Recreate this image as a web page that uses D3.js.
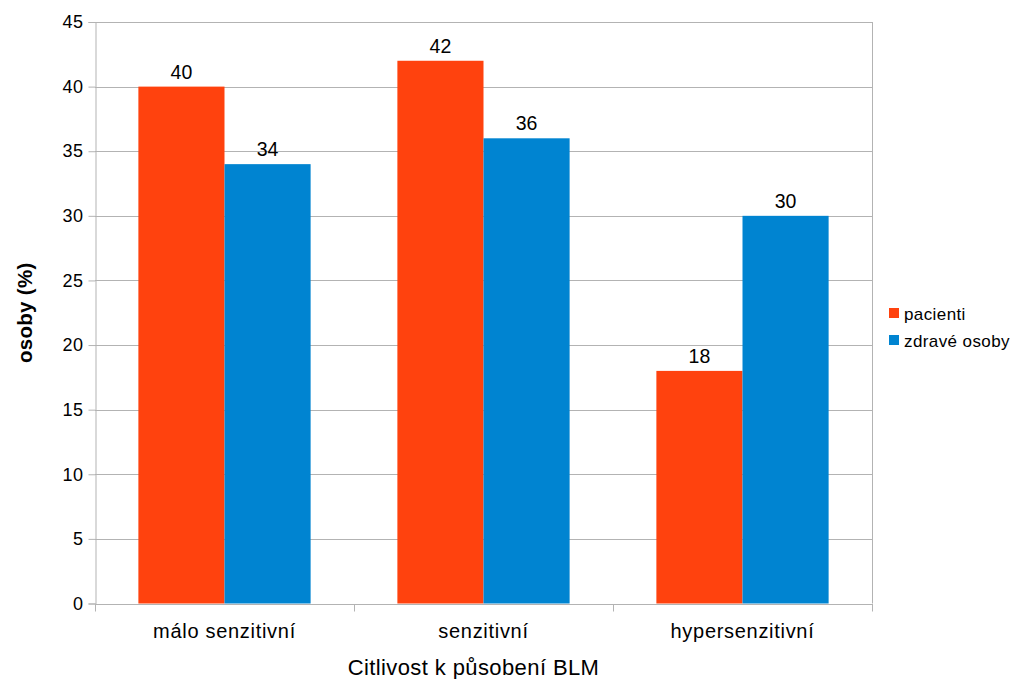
<!DOCTYPE html>
<html>
<head>
<meta charset="utf-8">
<script src="https://cdn.jsdelivr.net/npm/d3@7"></script>
<style>
  html, body { margin: 0; padding: 0; background: #fff; }
  svg { display: block; font-family: "Liberation Sans", Arial, sans-serif; }
</style>
</head>
<body>
<svg id="chart" width="1012" height="679"></svg>
<script>
// Sensitivity to BLM: share of persons per category
const categories = ["málo senzitivní", "senzitivní", "hypersenzitivní"];
const seriesNames = ["pacienti", "zdravé osoby"];
const pacienti = [40, 42, 18];
const zdraveOsoby = [34, 36, 30];
const yTicks = [0, 5, 10, 15, 20, 25, 30, 35, 40, 45];
const colors = ["#ff420e", "#0084d1"];

const seriesValues = [pacienti, zdraveOsoby];

const svg = d3.select("#chart");
const plot = { left: 95, right: 872, top: 22, bottom: 603.5 };

const x0 = d3.scaleBand()
  .domain(categories)
  .range([plot.left, plot.right])
  .paddingInner(0.335)
  .paddingOuter(0.1675);

const x1 = d3.scaleBand()
  .domain(seriesNames)
  .range([0, x0.bandwidth()]);

const y = d3.scaleLinear()
  .domain([0, 45])
  .range([plot.bottom, plot.top]);

const grid = "#b3b3b3";

// horizontal grid lines
svg.append("g")
  .selectAll("line")
  .data(yTicks)
  .join("line")
  .attr("x1", plot.left)
  .attr("x2", plot.right)
  .attr("y1", d => Math.round(y(d)) + 0.5)
  .attr("y2", d => Math.round(y(d)) + 0.5)
  .attr("stroke", grid)
  .attr("stroke-width", 1);

// right frame edge
svg.append("line")
  .attr("x1", plot.right + 0.5).attr("x2", plot.right + 0.5)
  .attr("y1", plot.top).attr("y2", plot.bottom)
  .attr("stroke", grid);

// bars
const rows = categories.map((c, i) => ({
  cat: c,
  vals: seriesNames.map((s, j) => ({ series: s, value: seriesValues[j][i], idx: j }))
}));

const groups = svg.append("g")
  .selectAll("g")
  .data(rows)
  .join("g")
  .attr("transform", d => `translate(${x0(d.cat)},0)`);

groups.selectAll("rect")
  .data(d => d.vals)
  .join("rect")
  .attr("x", d => x1(d.series))
  .attr("width", x1.bandwidth())
  .attr("y", d => y(d.value))
  .attr("height", d => y(0) - y(d.value))
  .attr("fill", d => colors[d.idx]);

groups.selectAll("text")
  .data(d => d.vals)
  .join("text")
  .attr("x", d => x1(d.series) + x1.bandwidth() / 2)
  .attr("y", d => y(d.value) - 8)
  .attr("text-anchor", "middle")
  .attr("font-size", 19.5)
  .attr("fill", "#000")
  .text(d => d.value);

// y axis
const yAxis = svg.append("g")
  .attr("transform", `translate(${plot.left + 0.5},0)`)
  .call(d3.axisLeft(y).tickValues(yTicks).tickSize(7).tickPadding(5));
yAxis.select(".domain").attr("stroke", grid);
yAxis.selectAll(".tick line").attr("stroke", grid);
yAxis.selectAll(".tick text")
  .attr("font-size", 18)
  .attr("letter-spacing", 0.5)
  .attr("font-family", "Liberation Sans, Arial, sans-serif")
  .attr("fill", "#000");

// x axis: ticks at category boundaries
const xAxis = svg.append("g")
  .attr("transform", `translate(0,${Math.round(plot.bottom) + 0.5})`);
xAxis.append("line")
  .attr("x1", plot.left).attr("x2", plot.right + 1)
  .attr("stroke", grid);
const bounds = categories.map(c => x0(c) - x0.step() * x0.paddingInner() / 2)
  .concat([plot.right]);
bounds[0] = plot.left;
xAxis.selectAll("line.tk")
  .data(bounds)
  .join("line")
  .attr("class", "tk")
  .attr("x1", d => Math.round(d) + 0.5)
  .attr("x2", d => Math.round(d) + 0.5)
  .attr("y1", 0).attr("y2", 7)
  .attr("stroke", grid);
xAxis.selectAll("text")
  .data(categories)
  .join("text")
  .attr("x", d => x0(d) + x0.bandwidth() / 2)
  .attr("y", 33.5)
  .attr("text-anchor", "middle")
  .attr("font-size", 20)
  .attr("letter-spacing", 0.7)
  .attr("fill", "#000")
  .text(d => d);

// axis titles
svg.append("text")
  .attr("x", (plot.left + plot.right) / 2 - 10)
  .attr("y", 675)
  .attr("text-anchor", "middle")
  .attr("font-size", 22)
  .attr("letter-spacing", 0.4)
  .attr("fill", "#000")
  .text("Citlivost k působení BLM");

svg.append("text")
  .attr("transform", `translate(32,${(plot.top + plot.bottom) / 2}) rotate(-90)`)
  .attr("text-anchor", "middle")
  .attr("font-size", 20.5)
  .attr("letter-spacing", 0.3)
  .attr("font-weight", "bold")
  .attr("fill", "#000")
  .text("osoby (%)");

// legend
const legend = svg.append("g").attr("transform", "translate(889,308)");
const items = legend.selectAll("g")
  .data(seriesNames)
  .join("g")
  .attr("transform", (d, i) => `translate(0,${i * 27})`);
items.append("rect")
  .attr("width", 10).attr("height", 10)
  .attr("fill", (d, i) => colors[i]);
items.append("text")
  .attr("x", 15).attr("y", 11.5)
  .attr("font-size", 17)
  .attr("letter-spacing", 0.4)
  .attr("fill", "#000")
  .text(d => d);
</script>
</body>
</html>
